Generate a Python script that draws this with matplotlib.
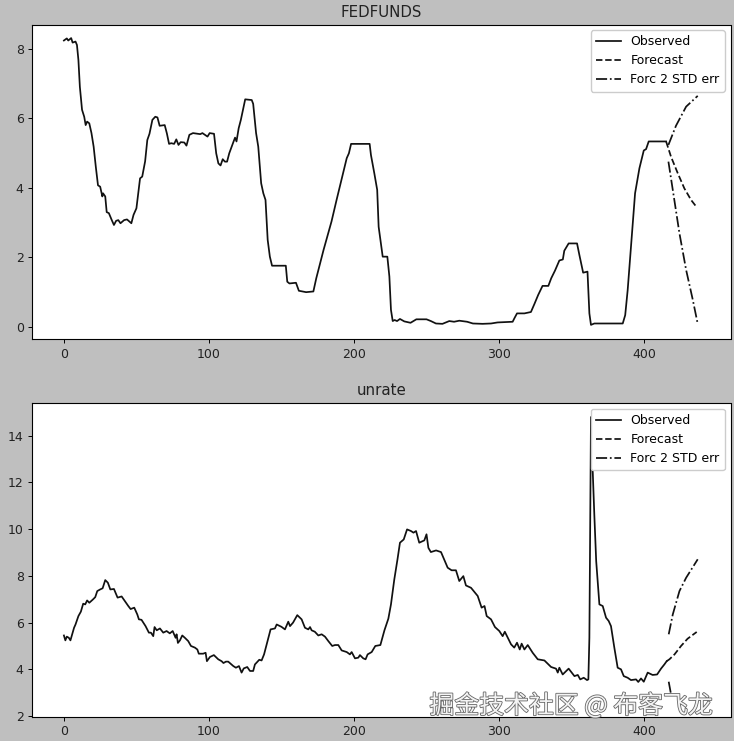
#!/usr/bin/env python3
"""Beobachtete Reihen und Prognose (FEDFUNDS, unrate) mit 2-STD-Band."""

import matplotlib
matplotlib.use("Agg")
import matplotlib.patheffects as pe
import matplotlib.pyplot as plt

# FEDFUNDS
fed_x = [0, 2, 3, 5, 6, 8, 9, 10, 11, 12.5, 14, 15, 16, 17.5, 19, 20.5, 22, 23.5, 25, 26.5, 27, 28.5, 29.5, 31, 33,
         34.5, 36, 37.5, 39, 41.5, 43.5, 46.5, 48, 50, 51.5, 52.5, 54, 56, 57.5, 59, 61, 63, 64.5, 66, 69.5, 71,
         72.5, 74, 76, 77.5, 79, 80.5, 83, 84.5, 86.5, 89, 94, 95.5, 99, 100.5, 103.5, 105, 106.5, 108, 109.5, 111,
         112.5, 114, 116, 117, 118, 119, 120.5, 122, 125, 129.5, 130.5, 132.5, 134, 136, 137.5, 139, 140.5, 142,
         143.5, 153, 154, 155.5, 160, 162, 167, 172, 174, 179, 184.5, 188, 192.5, 195, 196.5, 198, 210.8, 211.7,
         214, 216, 217, 219.8, 223, 224.4, 225.5, 226.7, 228, 229.7, 231.7, 234.7, 239, 243, 250, 253, 256.5, 261,
         265.7, 269, 272.6, 278, 282, 288.7, 294.5, 299, 309.4, 310.6, 312.4, 317.5, 322, 324.4, 327, 330, 334, 336,
         338.6, 341.6, 344, 345, 348, 353.8, 355.4, 358, 361, 362.3, 363.4, 365.7, 375, 385.3, 387, 388.7, 391,
         393.8, 396.8, 399.8, 401.4, 403.2, 415.2]
fed_y = [8.23, 8.29, 8.23, 8.30, 8.17, 8.20, 8.10, 7.67, 6.90, 6.24, 6.04, 5.80, 5.90, 5.85, 5.57, 5.18, 4.60, 4.07,
         4.03, 3.75, 3.84, 3.75, 3.30, 3.27, 3.07, 2.93, 3.05, 3.07, 2.98, 3.07, 3.09, 2.98, 3.22, 3.41, 3.94, 4.27,
         4.32, 4.76, 5.37, 5.55, 5.95, 6.04, 6.02, 5.78, 5.80, 5.56, 5.26, 5.28, 5.26, 5.39, 5.23, 5.31, 5.30, 5.21,
         5.52, 5.57, 5.54, 5.57, 5.47, 5.57, 5.55, 4.99, 4.70, 4.64, 4.82, 4.75, 4.75, 4.99, 5.22, 5.33, 5.44, 5.33,
         5.71, 5.95, 6.54, 6.52, 6.41, 5.57, 5.18, 4.13, 3.84, 3.65, 2.50, 2.02, 1.76, 1.76, 1.30, 1.25, 1.27, 1.04,
         1.00, 1.02, 1.40, 2.21, 3.03, 3.65, 4.42, 4.85, 4.99, 5.26, 5.26, 4.94, 4.42, 3.94, 2.88, 2.02, 2.02, 1.45,
         0.49, 0.17, 0.20, 0.17, 0.23, 0.16, 0.12, 0.22, 0.22, 0.17, 0.10, 0.09, 0.17, 0.15, 0.18, 0.15, 0.10, 0.09,
         0.10, 0.13, 0.15, 0.25, 0.39, 0.39, 0.43, 0.66, 0.92, 1.18, 1.18, 1.40, 1.62, 1.91, 1.94, 2.19, 2.40, 2.40,
         2.07, 1.56, 1.59, 0.39, 0.06, 0.10, 0.10, 0.10, 0.34, 1.06, 2.30, 3.84, 4.56, 5.07, 5.11, 5.33, 5.33]
fed_fc_x = [415.2, 418.6, 423.2, 427.8, 432.4, 436.3]
fed_fc_y = [5.33, 4.89, 4.42, 3.98, 3.65, 3.44]
fed_up_x = [416.8, 422, 429, 437]
fed_up_y = [5.23, 5.78, 6.33, 6.64]
fed_lo_x = [416.8, 419.8, 424.4, 429, 433.6, 437]
fed_lo_y = [4.75, 3.94, 2.69, 1.64, 0.78, 0.09]

# unrate
un_x = [0, 1, 2, 3.4, 4.5, 7, 8, 10, 11.7, 13.3, 14.7, 16, 17.5, 20, 21.6, 23, 25, 26.7, 28.5, 30.3, 32, 34.5, 37,
        39.8, 42.8, 44.4, 46, 48.5, 50.6, 51.7, 53.5, 56.3, 58.6, 60, 61.6, 62.5, 64, 66.2, 68.5, 70.8, 73, 75, 77,
        77.7, 78.6, 80, 81.6, 83.4, 85.7, 87.6, 90.3, 92, 93, 96, 97.7, 98.6, 100.7, 103.4, 106.4, 108.7, 110,
        111.7, 113.3, 116.8, 118.6, 120.7, 122.5, 124, 126.4, 128.3, 130.5, 131.7, 134.7, 136.3, 138, 139.8, 142.5,
        145.5, 146.7, 150, 152.4, 154.7, 155.9, 158, 160.9, 163.9, 166.2, 168.5, 169.7, 170.8, 173, 175.4, 177.7,
        180, 182.3, 185, 186.9, 189.2, 191.5, 195, 197.2, 198.4, 200.7, 203, 204.1, 206.4, 208, 209.4, 212.2, 214.7,
        218.2, 221, 223.7, 225.5, 227.8, 230, 231.7, 234.3, 236.6, 239.3, 241, 242.8, 245, 248.5, 250, 251.3, 253,
        256.6, 260, 264.6, 267.3, 270.3, 272.6, 275.4, 277.2, 280.7, 285.3, 288, 290, 291.5, 294.5, 297.2, 300.2,
        302.5, 304, 308.3, 310.5, 312.4, 314.3, 315.6, 317.5, 319.8, 323.2, 326.7, 331.3, 335.9, 339.3, 340.5,
        341.6, 343.9, 348, 352, 354.3, 356, 358.4, 360.7, 361.6, 362.3, 363.4, 364.6, 365.7, 367, 369.2, 371.5,
        373.8, 375.6, 377.2, 379.5, 381.8, 384.1, 386, 388.7, 391, 394.5, 396, 397.9, 399.8, 402.5, 405.9, 409,
        411.7, 414, 415.6]
un_y = [5.45, 5.24, 5.40, 5.35, 5.24, 5.78, 5.92, 6.28, 6.47, 6.81, 6.78, 6.95, 6.85, 6.99, 7.09, 7.35, 7.42, 7.47,
        7.82, 7.71, 7.42, 7.44, 7.07, 7.12, 6.85, 6.71, 6.58, 6.64, 6.35, 6.14, 6.12, 5.85, 5.57, 5.57, 5.42, 5.81,
        5.67, 5.75, 5.57, 5.64, 5.54, 5.64, 5.35, 5.50, 5.13, 5.24, 5.45, 5.35, 5.21, 5.00, 4.93, 4.85, 4.67, 4.67,
        4.71, 4.35, 4.53, 4.61, 4.43, 4.35, 4.27, 4.33, 4.33, 4.14, 4.07, 4.14, 3.86, 4.04, 4.10, 3.93, 3.93, 4.21,
        4.41, 4.38, 4.64, 5.07, 5.71, 5.75, 5.92, 5.82, 5.71, 6.04, 5.85, 6.00, 6.32, 6.14, 5.78, 5.71, 5.81, 5.67,
        5.61, 5.45, 5.50, 5.40, 5.21, 5.00, 5.04, 5.04, 4.81, 4.74, 4.64, 4.74, 4.47, 4.50, 4.61, 4.47, 4.43, 4.64,
        4.74, 5.00, 5.04, 5.67, 6.17, 6.78, 7.85, 8.71, 9.42, 9.56, 9.99, 9.92, 9.85, 9.92, 9.42, 9.52, 9.78, 9.20,
        9.02, 9.09, 9.02, 8.35, 8.24, 8.24, 7.78, 7.99, 7.59, 7.49, 7.14, 6.64, 6.71, 6.28, 6.14, 5.81, 5.64, 5.42,
        5.61, 5.07, 4.93, 5.14, 4.85, 5.10, 4.85, 5.04, 4.71, 4.43, 4.38, 4.10, 4.03, 3.86, 4.07, 3.78, 4.03, 3.71,
        3.76, 3.57, 3.64, 3.54, 3.57, 5.35, 14.8, 12.5, 10.63, 8.63, 6.78, 6.71, 6.21, 6.07, 5.85, 4.93, 4.07, 4.00,
        3.71, 3.64, 3.54, 3.57, 3.46, 3.61, 3.47, 3.86, 3.76, 3.78, 4.03, 4.21, 4.35]
un_fc_x = [415.6, 417.5, 421, 425.5, 430, 436.3]
un_fc_y = [4.35, 4.43, 4.64, 5.00, 5.31, 5.60]
un_up_x = [417, 419.8, 424.4, 429, 437]
un_up_y = [5.50, 6.35, 7.35, 7.92, 8.71]
un_lo_x = [417, 418.6]
un_lo_y = [3.47, 2.93]

x_ticks = [0, 100, 200, 300, 400]
fed_ticks = [0, 2, 4, 6, 8]
un_ticks = [2, 4, 6, 8, 10, 12, 14]

BG = "#bfbfbf"
W, H = 734, 741
FS = 9

plt.rcParams["font.size"] = FS
plt.rcParams["axes.titlesize"] = 10.8
fig = plt.figure(figsize=(W / 100, H / 100), dpi=100, facecolor=BG)


def draw_panel(box, title, x, y, fc_x, fc_y, up_x, up_y, lo_x, lo_y, ylim, yticks):
    # box in Pixeln: links, oben, rechts, unten
    left, top, right, bottom = box
    ax = fig.add_axes([left / W, 1 - bottom / H, (right - left) / W, (bottom - top) / H])
    ax.plot(x, y, "-", color="#111111", lw=1.25, label="Observed")
    ax.plot(fc_x, fc_y, "--", color="#111111", lw=1.25, label="Forecast")
    ax.plot(up_x, up_y, "-.", color="#111111", lw=1.25, label="Forc 2 STD err")
    ax.plot(lo_x, lo_y, "-.", color="#111111", lw=1.25)
    ax.set_xlim(-22, 459.6)
    ax.set_ylim(*ylim)
    ax.set_xticks(x_ticks)
    ax.set_yticks(yticks)
    ax.tick_params(length=3, width=0.7, pad=3, labelcolor="#222222")
    ax.set_title(title, pad=5.5, color="#222222")
    ax.legend(loc="upper right", fontsize=FS, framealpha=1, borderaxespad=0.45, handlelength=2.0,
              handletextpad=0.75, labelspacing=0.48, borderpad=0.42)
    return ax


draw_panel((32, 24.5, 730.5, 339.5), "FEDFUNDS", fed_x, fed_y, fed_fc_x, fed_fc_y,
           fed_up_x, fed_up_y, fed_lo_x, fed_lo_y, (-0.36, 8.69), fed_ticks)
draw_panel((32, 403, 730.5, 717), "unrate", un_x, un_y, un_fc_x, un_fc_y,
           un_up_x, un_up_y, un_lo_x, un_lo_y, (1.96, 15.4), un_ticks)

# Wasserzeichen
fig.text(713 / W, 1 - 706 / H, "掘金技术社区 @ 布客飞龙", ha="right", va="center", fontsize=17.9,
         family=["Noto Sans CJK SC", "DejaVu Sans"], color="#f4f4f4",
         path_effects=[pe.withStroke(linewidth=1.2, foreground="#666666")])

fig.savefig("out.png", dpi=100, facecolor=BG)
